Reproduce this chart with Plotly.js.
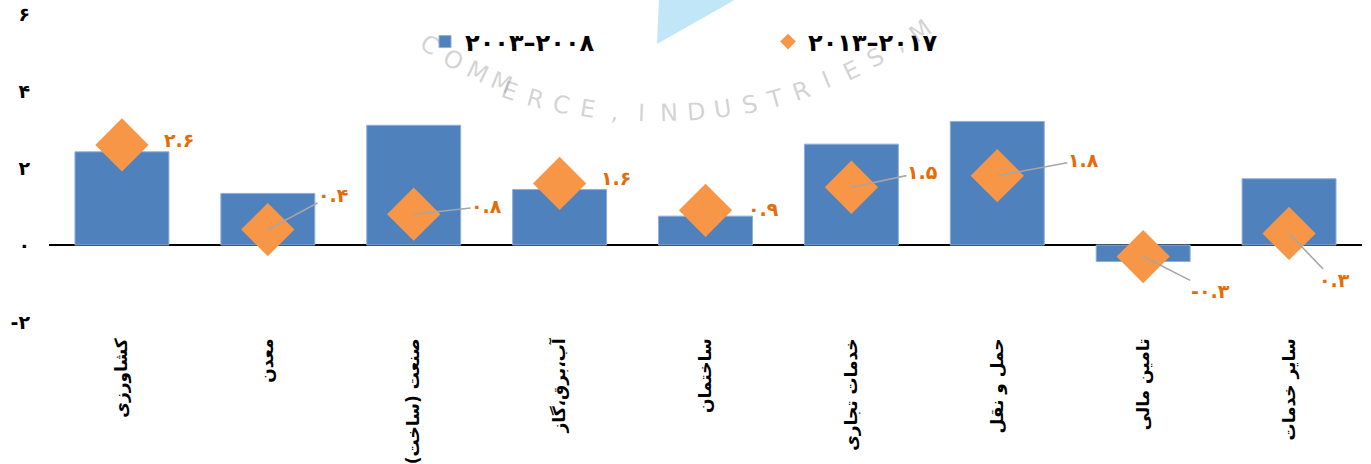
<!DOCTYPE html>
<html>
<head>
<meta charset="utf-8">
<script src="https://cdn.plot.ly/plotly-3.0.1.min.js"></script>
<style>html,body{margin:0;padding:0;background:#fff;}#chart{width:1371px;height:464px;}</style>
</head>
<body>
<div id="chart"></div>
<script>
// ---- data ----
const categories = ['کشاورزی','معدن','صنعت (ساخت)','آب،برق،گاز','ساختمان','خدمات تجاری','حمل و نقل','تامین مالی','سایر خدمات'];
const series1Name = '۲۰۰۳–۲۰۰۸';
const series2Name = '۲۰۱۳–۲۰۱۷';
const values2003_2008 = [2.42, 1.34, 3.11, 1.44, 0.75, 2.62, 3.21, -0.43, 1.72];
const values2013_2017 = [2.6, 0.4, 0.8, 1.6, 0.9, 1.5, 1.8, -0.3, 0.3];
const yTickVals = [-2, 0, 2, 4, 6];
const yTickText = ['-۲', '۰', '۲', '۴', '۶'];
const watermarkText = 'COMMERCE,INDUSTRIES,M';

// ---- styling / label placement (pixel offsets) ----
const labelDx = [57, 65, 73, 56, 58, 71, 86, 67, 45];
const labelDy = [-5, -35, -8, -5, -1, -15, -16, 34, 47];
const hasLeader = [false, true, true, false, false, true, true, true, true];

const W = 1371, H = 464;
const M = {l: 49, r: 9, t: 14, b: 142};
const PW = W - M.l - M.r, PH = H - M.t - M.b;
const px2x = p => (p - M.l) / PW;
const px2y = p => (H - M.b - p) / PH;

function toFa(v) {
  const d = '۰۱۲۳۴۵۶۷۸۹';
  const s = Math.abs(v).toFixed(1).replace(/\.0$/, '');
  return (v < 0 ? '-' : '') + s.replace(/[0-9]/g, c => d[+c]);
}

const FONT = 'DejaVu Sans';

const traces = [
  {
    type: 'bar', name: series1Name, x: categories, y: values2003_2008,
    marker: {color: '#4F81BD', line: {color: '#8EAEDB', width: 1}},
    hoverinfo: 'skip'
  },
  {
    type: 'scatter', mode: 'markers', name: series2Name, x: categories, y: values2013_2017,
    marker: {symbol: 'diamond', size: 41, color: '#F79646', line: {width: 0}},
    showlegend: false, legendgroup: 'b',
    hoverinfo: 'skip'
  },
  // legend-only entry (small diamond swatch, like the reference)
  {
    type: 'scatter', mode: 'markers', name: series2Name, x: [null], y: [null],
    marker: {symbol: 'diamond', size: 12, color: '#F79646', line: {width: 0}},
    legendgroup: 'b', hoverinfo: 'skip'
  }
];

const annotations = [];
categories.forEach((c, i) => {
  const a = {
    x: c, y: values2013_2017[i], xref: 'x', yref: 'y',
    text: toFa(values2013_2017[i]),
    font: {family: FONT, size: 19, color: '#E46C0A', weight: 'bold'},
    borderpad: 0
  };
  if (hasLeader[i]) {
    Object.assign(a, {showarrow: true, ax: labelDx[i], ay: labelDy[i], arrowhead: 0,
      arrowcolor: '#A6A6A6', arrowwidth: 1.6, standoff: 0, startstandoff: 0});
  } else {
    Object.assign(a, {showarrow: false, xshift: labelDx[i], yshift: -labelDy[i]});
  }
  annotations.push(a);
});

// faint circular watermark
const wcx = 655, wcy = -355, wr = 452, phi0 = -32.5, phi1 = 36;
for (let i = 0; i < watermarkText.length; i++) {
  const phi = phi0 + (phi1 - phi0) * i / (watermarkText.length - 1);
  const r = phi * Math.PI / 180;
  const px = wcx + wr * Math.sin(r), py = wcy + wr * Math.cos(r);
  annotations.push({
    xref: 'paper', yref: 'paper', x: px2x(px), y: px2y(py), showarrow: false,
    text: watermarkText[i], textangle: -phi,
    font: {family: FONT, size: 24, color: 'rgba(140,140,140,0.38)'}
  });
}

const shapes = [{
  type: 'path', xref: 'paper', yref: 'paper', layer: 'below',
  path: `M ${px2x(657)} ${px2y(44)} L ${px2x(659)} ${px2y(-2)} L ${px2x(738)} ${px2y(-2)} Z`,
  fillcolor: 'rgba(140,210,240,0.55)', line: {width: 0}
}];

const layout = {
  width: W, height: H, margin: M,
  paper_bgcolor: '#fff', plot_bgcolor: '#fff',
  bargap: 0.356,
  showlegend: true,
  legend: {
    orientation: 'h', x: px2x(425), xanchor: 'left', y: px2y(42), yanchor: 'middle',
    entrywidth: 298, entrywidthmode: 'pixels', itemwidth: 30,
    bgcolor: 'rgba(0,0,0,0)',
    font: {family: FONT, size: 24, color: '#000', weight: 'bold'}
  },
  xaxis: {
    type: 'category', range: [-0.5, categories.length - 0.5],
    showline: false, showgrid: false, zeroline: false, ticks: '',
    tickangle: -90, ticklabelstandoff: 12,
    tickfont: {family: FONT, size: 17, color: '#000', weight: 'bold'}
  },
  yaxis: {
    range: [-2, 6], tickvals: yTickVals, ticktext: yTickText,
    showgrid: false, showline: false, ticks: '',
    zeroline: true, zerolinecolor: '#000', zerolinewidth: 1.6,
    ticklabelstandoff: 18,
    tickfont: {family: FONT, size: 19, color: '#000', weight: 'bold'}
  },
  annotations: annotations,
  shapes: shapes
};

Plotly.newPlot('chart', traces, layout, {displayModeBar: false, staticPlot: true});
</script>
</body>
</html>
